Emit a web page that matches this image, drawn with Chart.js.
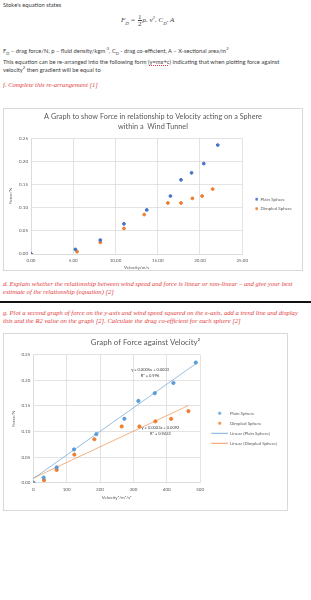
<!DOCTYPE html>
<html lang="en">
  <head>
    <meta charset="UTF-8" />
    <title>Stoke's equation - force against velocity</title>
    <script src="https://cdn.jsdelivr.net/npm/chart.js"></script>
    <style>
      body {
        margin: 0;
        width: 311px;
        height: 600px;
        position: relative;
        overflow: hidden;
        background: #fff;
        font-family: "Lato", sans-serif;
        color: #404040;
      }
      .t {
        position: absolute;
        left: 3px;
        font-size: 5.8px;
        line-height: 8px;
        white-space: nowrap;
      }
      .q {
        position: absolute;
        left: 3px;
        font-family: "Liberation Serif", serif;
        font-style: italic;
        color: #e03c3c;
        font-size: 6.6px;
        line-height: 8px;
        white-space: nowrap;
      }
      sub,
      sup {
        font-size: 70%;
        line-height: 0;
      }
      .sq {
        text-decoration: underline dotted #e03c3c;
      }
      .eq {
        position: absolute;
        font-family: "Liberation Serif", serif;
        font-style: italic;
        font-size: 7px;
        color: #404040;
        white-space: nowrap;
      }
      .frac {
        display: inline-flex;
        flex-direction: column;
        vertical-align: middle;
        text-align: center;
        font-style: normal;
        line-height: 6px;
        margin: 0 1px;
      }
      .frac span:first-child {
        border-bottom: 0.6px solid #404040;
      }
      .box {
        position: absolute;
        border: 1px solid #d9d9d9;
        background: #fff;
      }
      .box canvas {
        display: block;
      }
      .rule {
        position: absolute;
        left: 0;
        top: 301px;
        width: 311px;
        height: 2px;
        background: #111;
      }
    </style>
  </head>
  <body>
    <div class="t" style="top: 1px">Stoke's equation states</div>
    <div class="eq" style="left: 121px; top: 14px">
      F<sub>D</sub> = <span class="frac"><span>1</span><span>2</span></span>ρ. v<sup>2</sup>. C<sub>D</sub>. A
    </div>
    <div class="t" style="top: 47px">
      F<sub>D</sub> – drag force/N, ρ – fluid density/kgm<sup>-3</sup>, C<sub>D</sub> - drag co-efficient, A – X-sectional area/m<sup>2</sup>
    </div>
    <div class="t" style="top: 58px">
      This equation can be re-arranged into the following form (<span class="sq">y=mx+c</span>) indicating that when plotting force against<br />
      velocity<sup>2</sup> then gradient will be equal to
    </div>
    <div class="q" style="top: 81px">f. Complete this re-arrangement [1]</div>

    <div class="box" style="left: 3px; top: 108px; width: 298px; height: 161px">
      <canvas id="speedChart" width="298" height="161"></canvas>
    </div>

    <div class="q" style="top: 280px">
      d. Explain whether the relationship between wind speed and force is linear or non-linear – and give your best<br />
      estimate of the relationship (equation) [2]
    </div>
    <div class="rule"></div>
    <div class="q" style="top: 309px">
      g. Plot a second graph of force on the y-axis and wind speed squared on the x-axis, add a trend line and display<br />
      this and the R2 value on the graph [2]. Calculate the drag co-efficient for each sphere [2]
    </div>

    <div class="box" style="left: 3px; top: 333px; width: 283px; height: 176px">
      <canvas id="squaredChart" width="283" height="176"></canvas>
    </div>

    <script>
      // Readings taken from the wind tunnel graphs
      const plainVelocity = [0, 5.25, 8.2, 11.0, 13.7, 16.5, 17.75, 19.0, 20.45, 22.1];
      const plainForce = [0, 0.01, 0.03, 0.065, 0.095, 0.125, 0.16, 0.175, 0.195, 0.235];
      const dimpledVelocity = [0, 5.45, 8.2, 11.0, 13.4, 16.2, 17.75, 19.1, 20.25, 21.5];
      const dimpledForce = [0, 0.005, 0.025, 0.055, 0.085, 0.11, 0.11, 0.12, 0.125, 0.14];

      // velocity squared, as plotted on the second graph
      const plainVelocitySq = [0, 31, 70, 122, 189, 273, 315, 364, 420, 487];
      const dimpledVelocitySq = [0, 32, 70, 123, 183, 265, 318, 366, 413, 465];

      // trend line end points (x, y)
      const plainTrendX = [0, 490];
      const plainTrendY = [0.008, 0.234];
      const dimpledTrendX = [0, 465];
      const dimpledTrendY = [0.009, 0.151];

      const plainTrendText = ["y = 0.0005x + 0.0003", "R² = 0.996"];
      const plainTrendAt = [350, 0.22];
      const dimpledTrendText = ["y = 0.0003x + 0.0092", "R² = 0.9422"];
      const dimpledTrendAt = [381, 0.107];

      const blue1 = "#4472C4";
      const blue2 = "#5B9BD5";
      const orange = "#ED7D31";
      const textGrey = "#595959";
      const gridGrey = "#d9d9d9";

      Chart.defaults.font.family = "Lato";
      Chart.defaults.color = textGrey;

      function pairs(xs, ys) {
        return xs.map((x, i) => ({ x: x, y: ys[i] }));
      }

      // small canvas used as legend marker
      function legendIcon(color, kind, w, a, b) {
        const c = document.createElement("canvas");
        c.width = w;
        c.height = 5;
        const g = c.getContext("2d");
        if (kind === "line") {
          g.strokeStyle = color;
          g.lineWidth = 0.8;
          g.beginPath();
          g.moveTo(a, 2.5);
          g.lineTo(b, 2.5);
          g.stroke();
        } else {
          g.fillStyle = color;
          g.beginPath();
          g.arc(a, 2.5, 1.4, 0, Math.PI * 2);
          g.fill();
        }
        return c;
      }

      function makeLabels(icons) {
        return function (chart) {
          return chart.data.datasets.map((ds, i) => ({
            text: ds.label,
            fillStyle: ds.borderColor,
            strokeStyle: ds.borderColor,
            lineWidth: 0,
            hidden: false,
            datasetIndex: i,
            fontColor: textGrey,
            pointStyle: icons[i],
          }));
        };
      }

      const trendLabels = {
        id: "trendLabels",
        afterDatasetsDraw(chart, args, opts) {
          const ctx = chart.ctx;
          const xs = chart.scales.x;
          const ys = chart.scales.y;
          ctx.save();
          ctx.font = "4px Lato";
          ctx.fillStyle = "#404040";
          ctx.textAlign = "center";
          ctx.textBaseline = "middle";
          opts.items.forEach((it) => {
            const px = xs.getPixelForValue(it.at[0]);
            const py = ys.getPixelForValue(it.at[1]);
            it.lines.forEach((line, k) => ctx.fillText(line, px, py + k * 5.5));
          });
          ctx.restore();
        },
      };

      function axis(min, max, step, title, fmt, titlePad, size, tickPad) {
        return {
          type: "linear",
          min: min,
          max: max,
          ticks: {
            stepSize: step,
            padding: tickPad,
            font: { size: 4.5 },
            color: textGrey,
            callback: fmt,
          },
          grid: { color: gridGrey, lineWidth: 0.75, drawTicks: false },
          border: { color: gridGrey, width: 0.75 },
          title: {
            display: true,
            text: title,
            font: { size: 4.5 },
            color: textGrey,
            padding: titlePad,
          },
          afterFit: size,
        };
      }

      new Chart(document.getElementById("speedChart"), {
        type: "scatter",
        data: {
          datasets: [
            {
              label: "Plain Sphere",
              data: pairs(plainVelocity, plainForce),
              backgroundColor: blue1,
              borderColor: blue1,
              pointRadius: 1.4,
            },
            {
              label: "Dimpled Sphere",
              data: pairs(dimpledVelocity, dimpledForce),
              backgroundColor: orange,
              borderColor: orange,
              pointRadius: 1.4,
            },
          ],
        },
        options: {
          responsive: false,
          animation: false,
          layout: { padding: { left: 0, right: 0, top: 0, bottom: 0 } },
          scales: {
            x: axis(0, 25, 5, "Velocity/m/s", (v) => v.toFixed(2), { top: 0, bottom: 0 }, (s) => {
              s.height = 16;
            }, 4),
            y: axis(0, 0.25, 0.05, "Force/N", (v) => v.toFixed(2), { top: 4.3, bottom: 0 }, (s) => {
              s.width = 27;
            }, 3),
          },
          plugins: {
            title: {
              display: true,
              text: ["A Graph to show Force in relationship to Velocity acting on a Sphere", "within a  Wind Tunnel"],
              font: { size: 7.3, weight: "normal", lineHeight: 1.3 },
              color: textGrey,
              padding: { top: 3.3, bottom: 6.8 },
            },
            legend: {
              position: "right",
              title: { display: true, text: "", font: { size: 1, lineHeight: 1 }, padding: 14 },
              labels: {
                usePointStyle: true,
                pointStyleWidth: 11,
                padding: 5,
                font: { size: 4.5 },
                generateLabels: makeLabels([legendIcon(blue1, "dot", 11, 9.5), legendIcon(orange, "dot", 11, 9.5)]),
              },
            },
            tooltip: { enabled: false },
          },
        },
      });

      new Chart(document.getElementById("squaredChart"), {
        type: "scatter",
        data: {
          datasets: [
            {
              label: "Plain Sphere",
              data: pairs(plainVelocitySq, plainForce),
              backgroundColor: blue2,
              borderColor: blue2,
              pointRadius: 1.6,
            },
            {
              label: "Dimpled Sphere",
              data: pairs(dimpledVelocitySq, dimpledForce),
              backgroundColor: orange,
              borderColor: orange,
              pointRadius: 1.6,
            },
            {
              type: "line",
              label: "Linear (Plain Sphere)",
              data: pairs(plainTrendX, plainTrendY),
              borderColor: "rgba(91,155,213,0.8)",
              borderWidth: 0.8,
              pointRadius: 0,
            },
            {
              type: "line",
              label: "Linear (Dimpled Sphere)",
              data: pairs(dimpledTrendX, dimpledTrendY),
              borderColor: "rgba(237,125,49,0.75)",
              borderWidth: 0.8,
              pointRadius: 0,
            },
          ],
        },
        options: {
          responsive: false,
          animation: false,
          layout: { padding: { left: 0, right: 0, top: 0, bottom: 10 } },
          scales: {
            x: axis(0, 500, 100, "Velocity²/m²/s²", (v) => String(v), { top: 0, bottom: 0 }, (s) => {
              s.height = 17.3;
            }, 4),
            y: axis(0, 0.25, 0.05, "Force/N", (v) => v.toFixed(2), { top: 7.3, bottom: 0 }, (s) => {
              s.width = 29.3;
            }, 3),
          },
          plugins: {
            title: {
              display: true,
              text: "Graph of Force against Velocity²",
              font: { size: 7.8, weight: "normal", lineHeight: 1.2 },
              color: textGrey,
              padding: { top: 3.3, bottom: 8.2 },
            },
            legend: {
              position: "right",
              maxWidth: 100,
              title: { display: true, text: "", font: { size: 1, lineHeight: 1 }, padding: 10.8 },
              labels: {
                usePointStyle: true,
                pointStyleWidth: 22,
                padding: 5.5,
                font: { size: 4.5 },
                generateLabels: makeLabels([
                  legendIcon(blue2, "dot", 22, 14),
                  legendIcon(orange, "dot", 22, 14),
                  legendIcon(blue2, "line", 22, 5.5, 22),
                  legendIcon(orange, "line", 22, 5.5, 22),
                ]),
              },
            },
            trendLabels: {
              items: [
                { lines: plainTrendText, at: plainTrendAt },
                { lines: dimpledTrendText, at: dimpledTrendAt },
              ],
            },
            tooltip: { enabled: false },
          },
        },
        plugins: [trendLabels],
      });
    </script>
  </body>
</html>
